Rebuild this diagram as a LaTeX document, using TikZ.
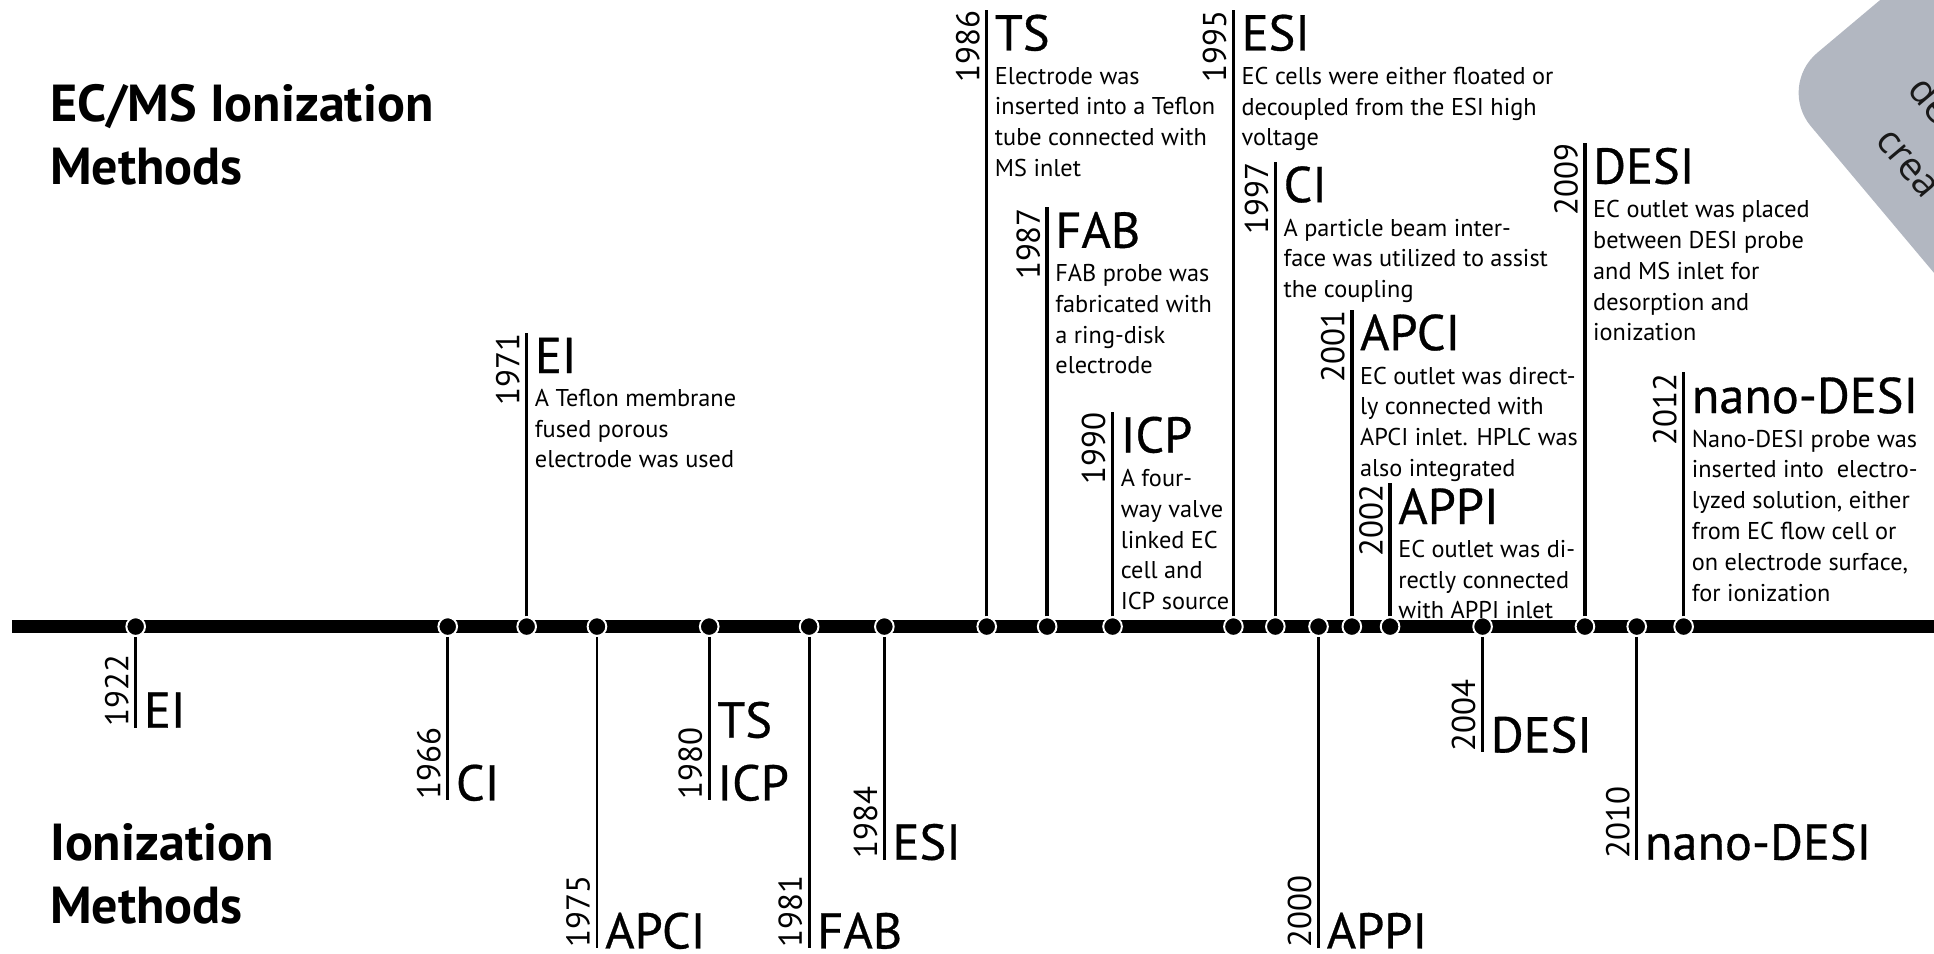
\documentclass[tikz,border=0pt]{standalone}
\usepackage{fontspec}
\setmainfont{PT Sans}
\newfontfamily\headfont[FakeBold=0.6]{PT Sans}
\newfontfamily\wmfont{Open Sans}
\usetikzlibrary{positioning}
\definecolor{wmgray}{RGB}{178,183,193}
\tikzstyle{mainbar} = [line width=3.1pt]
\tikzstyle{yeardot} = [
    circle, fill=black, draw=white, line width=0.45pt,
    inner sep=0pt, minimum size=4.3pt % dot sitting on the time bar
]
\tikzstyle{upline} = [line width=0.8pt]
\tikzstyle{downline} = [line width=0.65pt]
\tikzstyle{year} = [rotate=90, inner sep=0pt, font=\fontsize{7.6}{8}\selectfont]
\tikzstyle{method} = [inner sep=0pt, font=\headfont\fontsize{11.6}{13}\selectfont]
\tikzstyle{desc} = [inner sep=0pt, align=left, font=\fontsize{5.6}{7.1}\selectfont]
\tikzstyle{sectitle} = [inner sep=0pt, align=left, font=\bfseries\fontsize{12}{14.5}\selectfont]
\tikzstyle{wmtext} = [rotate=-50, inner sep=0pt, text=black!90, font=\wmfont\fontsize{9}{10}\selectfont]
\begin{document}
\begin{tikzpicture}[x=0.01cm, y=-0.01cm]
        \useasboundingbox (0,0) rectangle (1568,773);
        \clip (0,0) rectangle (1568,773);

        % Badge in the corner
        \fill[wmgray, rounded corners=12pt] (1441,70) -- ++(306,-257) -- ++(257,306) -- ++(-306,257) -- cycle;
        \node[wmtext, anchor=base west] (wm1) at (1545,73) {de};
        \node[wmtext, anchor=base west] (wm2) at (1519,114) {crea};

        % Titles
        \node[sectitle, anchor=north west] (ecms) at (40,68) {EC/MS Ionization\\Methods};
        \node[sectitle, anchor=north west] (ionm) at (40,667) {Ionization\\Methods};

        % Time bar
        \coordinate (barL) at (10,508);
        \coordinate (barR) at (1568,508);
        \draw[mainbar] (barL) -- (barR);

        % Ionization methods (below the bar)
        \coordinate (b1922) at (110,590);
        \node[yeardot] (d1922) at (110,508) {};
        \draw[downline] (d1922) -- (b1922);
        \node[year, anchor=south west] (y1922) at ([xshift=-1.4pt]b1922) {1922};
        \node[method, anchor=base west] (m1922) at ([xshift=1.7pt]b1922) {EI};

        \coordinate (b1966) at (363,649);
        \node[yeardot] (d1966) at (363,508) {};
        \draw[downline] (d1966) -- (b1966);
        \node[year, anchor=south west] (y1966) at ([xshift=-1.4pt]b1966) {1966};
        \node[method, anchor=base west] (m1966) at ([xshift=1.7pt]b1966) {CI};

        \coordinate (b1975) at (484,769);
        \node[yeardot] (d1975) at (484,508) {};
        \draw[downline] (d1975) -- (b1975);
        \node[year, anchor=south west] (y1975) at ([xshift=-1.4pt]b1975) {1975};
        \node[method, anchor=base west] (m1975) at ([xshift=1.7pt]b1975) {APCI};

        \coordinate (b1980) at (575,649);
        \node[yeardot] (d1980) at (575,508) {};
        \draw[downline] (d1980) -- (b1980);
        \node[year, anchor=south west] (y1980) at ([xshift=-1.4pt]b1980) {1980};
        \node[method, anchor=base west] (m1980b) at ([xshift=1.7pt]b1980) {ICP};
        \node[method, anchor=base west] (m1980a) at ([xshift=1.7pt,yshift=14.5pt]b1980) {TS};

        \coordinate (b1981) at (656,769);
        \node[yeardot] (d1981) at (656,508) {};
        \draw[downline] (d1981) -- (b1981);
        \node[year, anchor=south west] (y1981) at ([xshift=-1.4pt]b1981) {1981};
        \node[method, anchor=base west] (m1981) at ([xshift=1.7pt]b1981) {FAB};

        \coordinate (b1984) at (717,697);
        \node[yeardot] (d1984) at (717,508) {};
        \draw[downline] (d1984) -- (b1984);
        \node[year, anchor=south west] (y1984) at ([xshift=-1.4pt]b1984) {1984};
        \node[method, anchor=base west] (m1984) at ([xshift=1.7pt]b1984) {ESI};

        \coordinate (b2000) at (1069,769);
        \node[yeardot] (d2000) at (1069,508) {};
        \draw[downline] (d2000) -- (b2000);
        \node[year, anchor=south west] (y2000) at ([xshift=-1.4pt]b2000) {2000};
        \node[method, anchor=base west] (m2000) at ([xshift=1.7pt]b2000) {APPI};

        \coordinate (b2004) at (1202,610);
        \node[yeardot] (d2004) at (1202,508) {};
        \draw[downline] (d2004) -- (b2004);
        \node[year, anchor=south west] (y2004) at ([xshift=-1.4pt]b2004) {2004};
        \node[method, anchor=base west] (m2004) at ([xshift=1.7pt]b2004) {DESI};

        \coordinate (b2010) at (1327,697);
        \node[yeardot] (d2010) at (1327,508) {};
        \draw[downline] (d2010) -- (b2010);
        \node[year, anchor=south west] (y2010) at ([xshift=-1.4pt]b2010) {2010};
        \node[method, anchor=base west] (m2010) at ([xshift=1.7pt]b2010) {nano-DESI};

        % EC/MS couplings (above the bar)
        \coordinate (t1971) at (427,270);
        \node[yeardot] (d1971) at (427,508) {};
        \draw[upline] (d1971) -- (t1971);
        \node[year, anchor=south east] (y1971) at ([xshift=-1.4pt]t1971) {1971};
        \node[method, anchor=north west] (m1971) at ([xshift=1.7pt,yshift=-0.9pt]t1971) {EI};
        \node[desc] (c1971) [below=3.3pt of m1971.south west, anchor=north west] {A Teflon membrane\\fused porous\\electrode was used};

        \coordinate (t1986) at (800,8);
        \node[yeardot] (d1986) at (800,508) {};
        \draw[upline] (d1986) -- (t1986);
        \node[year, anchor=south east] (y1986) at ([xshift=-1.4pt]t1986) {1986};
        \node[method, anchor=north west] (m1986) at ([xshift=1.7pt,yshift=-0.9pt]t1986) {TS};
        \node[desc] (c1986) [below=3.3pt of m1986.south west, anchor=north west] {Electrode was\\inserted into a Teflon\\tube connected with\\MS inlet};

        \coordinate (t1987) at (849,168);
        \node[yeardot] (d1987) at (849,508) {};
        \draw[upline] (d1987) -- (t1987);
        \node[year, anchor=south east] (y1987) at ([xshift=-1.4pt]t1987) {1987};
        \node[method, anchor=north west] (m1987) at ([xshift=1.7pt,yshift=-0.9pt]t1987) {FAB};
        \node[desc] (c1987) [below=3.3pt of m1987.south west, anchor=north west] {FAB probe was\\fabricated with\\a ring-disk\\electrode};

        \coordinate (t1990) at (902,334);
        \node[yeardot] (d1990) at (902,508) {};
        \draw[upline] (d1990) -- (t1990);
        \node[year, anchor=south east] (y1990) at ([xshift=-1.4pt]t1990) {1990};
        \node[method, anchor=north west] (m1990) at ([xshift=1.7pt,yshift=-0.9pt]t1990) {ICP};
        \node[desc] (c1990) [below=3.3pt of m1990.south west, anchor=north west] {A four-\\way valve\\linked EC\\cell and\\ICP source};

        \coordinate (t1995) at (1000,8);
        \node[yeardot] (d1995) at (1000,508) {};
        \draw[upline] (d1995) -- (t1995);
        \node[year, anchor=south east] (y1995) at ([xshift=-1.4pt]t1995) {1995};
        \node[method, anchor=north west] (m1995) at ([xshift=1.7pt,yshift=-0.9pt]t1995) {ESI};
        \node[desc] (c1995) [below=3.3pt of m1995.south west, anchor=north west] {EC cells were either floated or\\decoupled from the ESI high\\voltage};

        \coordinate (t1997) at (1034,131);
        \node[yeardot] (d1997) at (1034,508) {};
        \draw[upline] (d1997) -- (t1997);
        \node[year, anchor=south east] (y1997) at ([xshift=-1.4pt]t1997) {1997};
        \node[method, anchor=north west] (m1997) at ([xshift=1.7pt,yshift=-0.9pt]t1997) {CI};
        \node[desc] (c1997) [below=3.3pt of m1997.south west, anchor=north west] {A particle beam inter-\\face was utilized to assist\\the coupling};

        \coordinate (t2001) at (1096,251);
        \node[yeardot] (d2001) at (1096,508) {};
        \draw[upline] (d2001) -- (t2001);
        \node[year, anchor=south east] (y2001) at ([xshift=-1.4pt]t2001) {2001};
        \node[method, anchor=north west] (m2001) at ([xshift=1.7pt,yshift=-0.9pt]t2001) {APCI};
        \node[desc] (c2001) [below=3.3pt of m2001.south west, anchor=north west] {EC outlet was direct-\\ly connected with\\APCI inlet. HPLC was\\also integrated};

        \coordinate (t2002) at (1127,392);
        \node[yeardot] (d2002) at (1127,508) {};
        \draw[upline] (d2002) -- (t2002);
        \node[year, anchor=south east] (y2002) at ([xshift=-1.4pt]t2002) {2002};
        \node[method, anchor=north west] (m2002) at ([xshift=1.7pt,yshift=-0.9pt]t2002) {APPI};
        \node[desc] (c2002) [below=3.3pt of m2002.south west, anchor=north west] {EC outlet was di-\\rectly connected\\with APPI inlet};

        \coordinate (t2009) at (1285,116);
        \node[yeardot] (d2009) at (1285,508) {};
        \draw[upline] (d2009) -- (t2009);
        \node[year, anchor=south east] (y2009) at ([xshift=-1.4pt]t2009) {2009};
        \node[method, anchor=north west] (m2009) at ([xshift=1.7pt,yshift=-0.9pt]t2009) {DESI};
        \node[desc] (c2009) [below=3.3pt of m2009.south west, anchor=north west] {EC outlet was placed\\between DESI probe\\and MS inlet for\\desorption and\\ionization};

        \coordinate (t2012) at (1365,302);
        \node[yeardot] (d2012) at (1365,508) {};
        \draw[upline] (d2012) -- (t2012);
        \node[year, anchor=south east] (y2012) at ([xshift=-1.4pt]t2012) {2012};
        \node[method, anchor=north west] (m2012) at ([xshift=1.7pt,yshift=-0.9pt]t2012) {nano-DESI};
        \node[desc] (c2012) [below=3.3pt of m2012.south west, anchor=north west] {Nano-DESI probe was\\inserted into\ \ electro-\\lyzed solution, either\\from EC flow cell or\\on electrode surface,\\for ionization};

    \end{tikzpicture}
\end{document}
